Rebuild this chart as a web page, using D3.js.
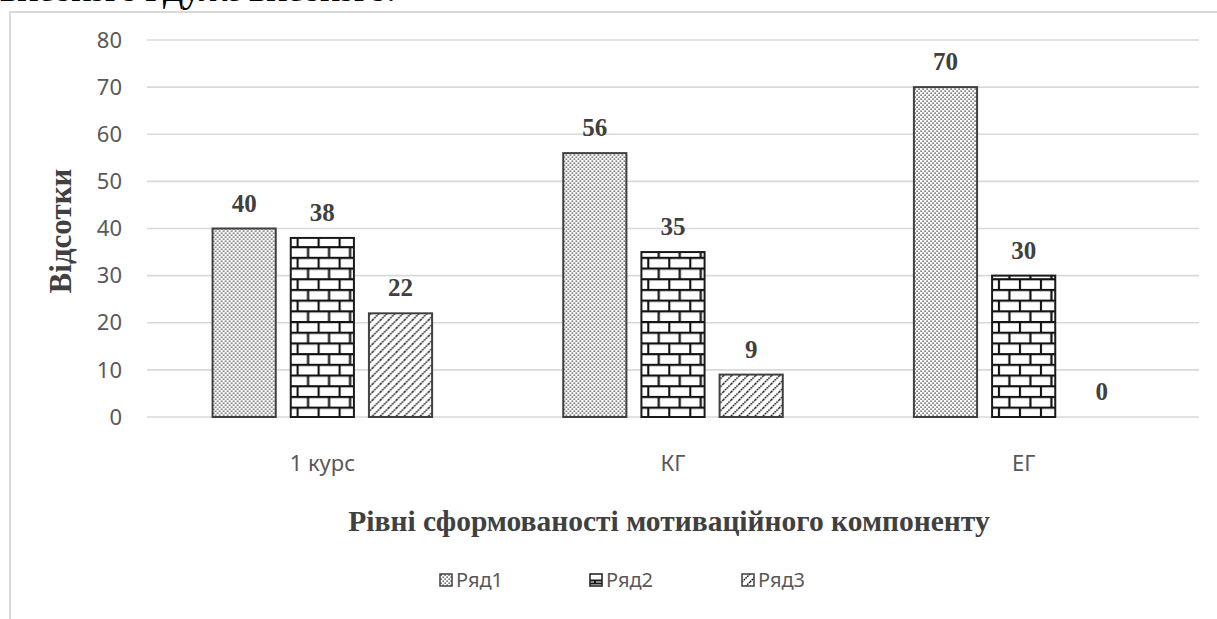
<!DOCTYPE html>
<html>
<head>
<meta charset="utf-8">
<script src="https://cdn.jsdelivr.net/npm/d3@7"></script>
<style>
  body { margin: 0; background: #fff; }
  svg { display: block; }
</style>
</head>
<body>
<div id="chart"></div>
<script>
const categories = ["1 курс", "КГ", "ЕГ"];
const seriesNames = ["Ряд1", "Ряд2", "Ряд3"];
const ryad1 = [40, 56, 70];
const ryad2 = [38, 35, 30];
const ryad3 = [22, 9, 0];
const yTicks = [0, 10, 20, 30, 40, 50, 60, 70, 80];

const width = 1217, height = 619;
const svg = d3.select("#chart").append("svg")
  .attr("width", width).attr("height", height);

// fill patterns
const defs = svg.append("defs");
const dots = defs.append("pattern").attr("id", "p-dots")
  .attr("patternUnits", "userSpaceOnUse").attr("width", 4).attr("height", 4);
dots.append("rect").attr("width", 4).attr("height", 4).attr("fill", "#fff");
dots.append("rect").attr("x", 0.5).attr("y", 0.5).attr("width", 1.25).attr("height", 1.25).attr("fill", "#111");
dots.append("rect").attr("x", 2.5).attr("y", 2.5).attr("width", 1.25).attr("height", 1.25).attr("fill", "#111");

const brick = defs.append("pattern").attr("id", "p-brick")
  .attr("patternUnits", "userSpaceOnUse").attr("width", 21).attr("height", 21.4);
brick.append("rect").attr("width", 21).attr("height", 21.4).attr("fill", "#fff");
brick.append("path")
  .attr("d", "M0,1 H21 M0,11.7 H21 M1,0 V11.7 M11.5,11.7 V21.4")
  .attr("stroke", "#111").attr("stroke-width", 2.2).attr("fill", "none");

const diag = defs.append("pattern").attr("id", "p-diag")
  .attr("patternUnits", "userSpaceOnUse").attr("width", 8).attr("height", 8);
diag.append("rect").attr("width", 8).attr("height", 8).attr("fill", "#fff");
diag.append("path")
  .attr("d", "M0,8 L8,0 M-2,2 L2,-2 M6,10 L10,6")
  .attr("stroke", "#111").attr("stroke-width", 1.4).attr("stroke-dasharray", "1.6,0.9");

const fills = ["url(#p-dots)", "url(#p-brick)", "url(#p-diag)"];
const strokes = ["#404040", "#1a1a1a", "#404040"];

// text cut off at the top of the page
svg.append("text")
  .attr("x", 0).attr("y", 1)
  .attr("textLength", 396).attr("lengthAdjust", "spacing")
  .attr("font-family", "Liberation Serif, serif")
  .attr("font-size", 40)
  .attr("fill", "#000")
  .text("високого і дуже високого.");

// chart frame (only top and left visible)
svg.append("path")
  .attr("d", "M10,619 V12 H1217")
  .attr("fill", "none").attr("stroke", "#d9d9d9").attr("stroke-width", 2);

const margin = { left: 147, right: 1199, top: 40, bottom: 417 };

const y = d3.scaleLinear().domain([0, 80]).range([margin.bottom, margin.top]);
const x0 = d3.scaleBand().domain(categories)
  .range([margin.left, margin.right])
  .paddingInner(0.374).paddingOuter(0.187);
const x1 = d3.scaleBand().domain(seriesNames)
  .range([0, x0.bandwidth()])
  .paddingInner(0.192);

// gridlines
svg.append("g")
  .selectAll("line").data(yTicks).join("line")
  .attr("x1", margin.left).attr("x2", margin.right)
  .attr("y1", d => y(d)).attr("y2", d => y(d))
  .attr("stroke", "#d9d9d9").attr("stroke-width", 1.6);

// y tick labels
svg.append("g")
  .selectAll("text").data(yTicks).join("text")
  .attr("x", 122).attr("y", d => y(d))
  .attr("dy", "0.35em")
  .attr("text-anchor", "end")
  .attr("font-family", "Noto Sans, sans-serif")
  .attr("font-size", 22)
  .attr("fill", "#595959")
  .text(d => d);

// bars
const rows = categories.map((c, i) => ({
  cat: c,
  vals: [ryad1[i], ryad2[i], ryad3[i]].map((v, k) => ({ s: seriesNames[k], k: k, v: v }))
}));

const groups = svg.append("g").selectAll("g").data(rows).join("g")
  .attr("transform", d => `translate(${x0(d.cat)},0)`);

groups.selectAll("rect").data(d => d.vals.filter(e => e.v > 0)).join("rect")
  .attr("x", d => x1(d.s))
  .attr("y", d => y(d.v))
  .attr("width", x1.bandwidth())
  .attr("height", d => y(0) - y(d.v))
  .attr("fill", d => fills[d.k])
  .attr("stroke", d => strokes[d.k])
  .attr("stroke-width", 2);

groups.selectAll("text").data(d => d.vals).join("text")
  .attr("x", d => x1(d.s) + x1.bandwidth() / 2)
  .attr("y", d => y(d.v) - 17)
  .attr("text-anchor", "middle")
  .attr("font-family", "Liberation Serif, serif")
  .attr("font-weight", "bold")
  .attr("font-size", 25)
  .attr("fill", "#404040")
  .text(d => d.v);

// category labels
svg.append("g").selectAll("text").data(categories).join("text")
  .attr("x", d => x0(d) + x0.bandwidth() / 2)
  .attr("y", 471)
  .attr("text-anchor", "middle")
  .attr("font-family", "Noto Sans, sans-serif")
  .attr("font-size", 22)
  .attr("fill", "#595959")
  .text(d => d);

// axis titles
svg.append("text")
  .attr("x", 669).attr("y", 531)
  .attr("text-anchor", "middle")
  .attr("font-family", "Liberation Serif, serif")
  .attr("font-weight", "bold")
  .attr("font-size", 29.5)
  .attr("fill", "#404040")
  .text("Рівні сформованості мотиваційного компоненту");

svg.append("text")
  .attr("transform", "translate(71,231) rotate(-90)")
  .attr("text-anchor", "middle")
  .attr("font-family", "Liberation Serif, serif")
  .attr("font-weight", "bold")
  .attr("font-size", 31)
  .attr("fill", "#404040")
  .text("Відсотки");

// legend
const legendX = [440, 590, 742];
const legend = svg.append("g").selectAll("g").data(seriesNames).join("g")
  .attr("transform", (d, i) => `translate(${legendX[i]},574)`);
legend.append("rect")
  .attr("width", 12).attr("height", 12)
  .attr("fill", (d, i) => i === 1 ? "#fff" : fills[i])
  .attr("stroke", (d, i) => strokes[i]).attr("stroke-width", 1.5);
legend.filter((d, i) => i === 1).append("path")
  .attr("d", "M0,6.5 H12 M0,9.5 H12 M5,6.5 V9.5")
  .attr("stroke", "#1a1a1a").attr("stroke-width", 2);
legend.append("text")
  .attr("x", 16).attr("y", 6)
  .attr("dy", "0.35em")
  .attr("font-family", "Noto Sans, sans-serif")
  .attr("font-size", 20)
  .attr("fill", "#595959")
  .text(d => d);
</script>
</body>
</html>
